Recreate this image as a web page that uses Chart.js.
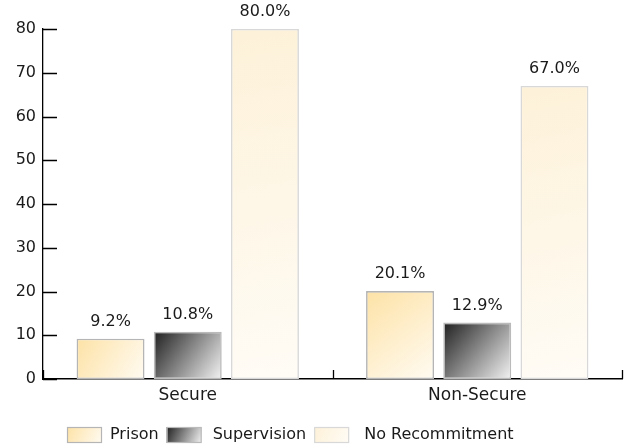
<!DOCTYPE html>
<html>
<head>
<meta charset="utf-8">
<script src="https://cdn.jsdelivr.net/npm/chart.js@4.4.1/dist/chart.umd.min.js"></script>
<style>
  html, body { margin: 0; padding: 0; background: #fff; }
  canvas { display: block; }
</style>
</head>
<body>
<canvas id="c" width="628" height="445"></canvas>
<script>
// Recommitment outcomes by placement type (percent)
const categories = ['Secure', 'Non-Secure'];
const seriesNames = ['Prison', 'Supervision', 'No Recommitment'];
const prison = [9.2, 20.1];
const supervision = [10.8, 12.9];
const noRecommitment = [80.0, 67.0];
const yTickValues = [0, 10, 20, 30, 40, 50, 60, 70, 80];

const FONT = '"DejaVu Sans", Verdana, sans-serif';

// Diagonal gradient stops (top-left -> bottom-right) and border colour per series
const fills = [
  { from: '#fde2a6', to: '#fffbf2', border: '#b5b5b5' },
  { from: '#1f1f1f', to: '#f4f4f4', border: '#bababa' },
  { from: '#fdf1d8', to: '#fffcf6', border: '#d8d8d8' }
];

function diag(ctx, x0, y0, x1, y1, f) {
  const g = ctx.createLinearGradient(x0, y0, x1, y1);
  g.addColorStop(0, f.from);
  g.addColorStop(1, f.to);
  return g;
}

// Gives every bar its own corner-to-corner gradient
const barGradients = {
  id: 'barGradients',
  beforeDatasetsDraw(chart) {
    const ctx = chart.ctx;
    chart.data.datasets.forEach((ds, di) => {
      const meta = chart.getDatasetMeta(di);
      meta.data.forEach(el => {
        const p = el.getProps(['x', 'y', 'base', 'width'], true);
        el.options.backgroundColor = diag(ctx, p.x - p.width / 2, p.y, p.x + p.width / 2, p.base, fills[di]);
      });
    });
  }
};

// Percentage labels above each bar
const valueLabels = {
  id: 'valueLabels',
  afterDatasetsDraw(chart) {
    const ctx = chart.ctx;
    ctx.save();
    ctx.font = '16px ' + FONT;
    ctx.fillStyle = '#1a1a1a';
    ctx.textAlign = 'center';
    ctx.textBaseline = 'middle';
    chart.data.datasets.forEach((ds, di) => {
      chart.getDatasetMeta(di).data.forEach((el, i) => {
        const p = el.getProps(['x', 'y'], true);
        ctx.fillText(ds.data[i].toFixed(1) + '%', p.x, p.y - 17);
      });
    });
    ctx.restore();
  }
};

// Inward tick marks on both axes
const axisTicks = {
  id: 'axisTicks',
  afterDraw(chart) {
    const { ctx, scales: { x, y } } = chart;
    ctx.save();
    ctx.strokeStyle = '#000';
    ctx.lineWidth = 1.3;
    ctx.beginPath();
    yTickValues.forEach(v => {
      const py = Math.round(y.getPixelForValue(v)) + 0.5;
      ctx.moveTo(x.left, py);
      ctx.lineTo(x.left + 14, py);
    });
    const half = (x.getPixelForValue(1) - x.getPixelForValue(0)) / 2;
    for (let i = 0; i <= categories.length; i++) {
      const px = Math.round(x.getPixelForValue(i) - half) + 0.5;
      ctx.moveTo(px, y.bottom);
      ctx.lineTo(px, y.bottom - 9);
    }
    ctx.stroke();
    ctx.restore();
  }
};

// Legend row along the bottom with gradient swatches
const bottomLegend = {
  id: 'bottomLegend',
  afterDraw(chart) {
    const ctx = chart.ctx;
    ctx.save();
    ctx.font = '16px ' + FONT;
    ctx.textBaseline = 'middle';
    ctx.textAlign = 'left';
    const boxW = 35, boxH = 16, top = 427;
    const textGap = [8, 11, 15];
    let cx = 67;
    seriesNames.forEach((name, i) => {
      ctx.fillStyle = diag(ctx, cx, top, cx + boxW, top + boxH, fills[i]);
      ctx.fillRect(cx, top, boxW, boxH);
      ctx.strokeStyle = fills[i].border;
      ctx.lineWidth = 1.2;
      ctx.strokeRect(cx + 0.5, top + 0.5, boxW - 1, boxH - 1);
      const tx = cx + boxW + textGap[i];
      ctx.fillStyle = '#1a1a1a';
      ctx.fillText(name, tx, top + boxH / 2);
      cx = tx + ctx.measureText(name).width + 8;
    });
    ctx.restore();
  }
};

const seriesData = [prison, supervision, noRecommitment];

new Chart(document.getElementById('c'), {
  type: 'bar',
  data: {
    labels: categories,
    datasets: seriesNames.map((name, i) => ({
      label: name,
      data: seriesData[i],
      // scriptable so each bar keeps its own options object
      backgroundColor: () => fills[i].from,
      borderColor: fills[i].border,
      borderWidth: 1.6,
      borderSkipped: false,
      categoryPercentage: 0.8,
      barPercentage: 0.88
    }))
  },
  options: {
    responsive: false,
    devicePixelRatio: 1,
    animation: false,
    layout: { padding: { top: 29, right: 6, bottom: 36, left: 0 } },
    plugins: {
      legend: { display: false },
      tooltip: { enabled: false }
    },
    scales: {
      x: {
        grid: { display: false, drawTicks: false },
        border: { display: true, color: '#000', width: 1.5 },
        ticks: { color: '#1a1a1a', font: { family: FONT, size: 17 }, padding: 6 },
        afterFit(s) { s.height = 30; }
      },
      y: {
        min: 0,
        max: 80,
        afterBuildTicks(s) { s.ticks = yTickValues.map(v => ({ value: v })); },
        grid: { display: false, drawTicks: false },
        border: { display: true, color: '#000', width: 1.3 },
        ticks: { color: '#1a1a1a', font: { family: FONT, size: 16 }, padding: 7 },
        afterFit(s) { s.width = 43; }
      }
    }
  },
  plugins: [barGradients, valueLabels, axisTicks, bottomLegend]
});
</script>
</body>
</html>
